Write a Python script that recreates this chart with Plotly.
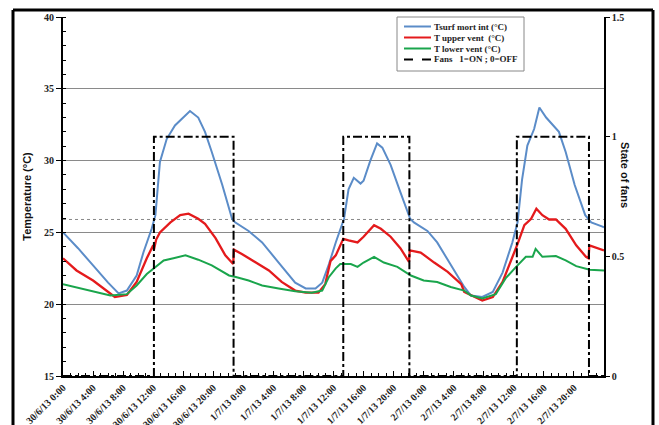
import plotly.graph_objects as go

# ---- data (hours since 30/6/13 0:00) ----
tsurf_h = [0, 2, 4, 6, 7.4, 8.5, 9.8, 10.7, 11.8, 12.3, 12.9, 13.8, 14.9, 16.0, 16.9, 18.0,
           18.9, 19.8, 21.2, 22.5, 22.9, 24.7, 26.5, 28.7, 30.9, 32.3, 33.6, 34.5, 35.4, 36.3,
           37.4, 38.0, 38.7, 39.6, 40.0, 40.9, 41.8, 42.5, 43.6, 44.9, 46.2, 46.7, 48.5, 49.8,
           51.6, 53.4, 54.3, 55.8, 57.2, 58.5, 59.8, 60.5, 61.1, 61.8, 62.7, 63.4, 64.3, 65.2,
           66.0, 66.9, 68.1, 69.5, 70.3, 71.8, 72]
tsurf_t = [25.0, 23.9, 22.7, 21.5, 20.75, 20.95, 22.0, 23.6, 25.25, 26.2, 29.9, 31.5, 32.45, 33.0, 33.45, 33.0,
           32.0, 30.6, 28.3, 25.95, 25.7, 25.1, 24.3, 22.9, 21.5, 21.1, 21.1, 21.5, 22.8, 24.3,
           25.95, 28.0, 28.8, 28.4, 28.6, 30.0, 31.2, 30.9, 29.7, 27.8, 25.95, 25.7, 25.1, 24.3,
           22.7, 21.2, 20.6, 20.5, 20.85, 22.2, 24.3, 25.7, 28.7, 31.05, 32.2, 33.7, 33.0, 32.45,
           32.0, 30.6, 28.3, 26.2, 25.7, 25.4, 25.35]

upper_h = [0, 1.8, 4.0, 5.8, 6.9, 8.5, 9.8, 11.15, 12.0, 12.1, 12.4, 12.9, 14.3, 15.6, 16.7, 18.0,
           18.9, 20.3, 21.6, 22.65, 22.75, 23.8, 25.6, 27.4, 29.1, 30.9, 32.3, 34.0, 34.9, 35.6,
           36.3, 36.9, 37.3, 38.0, 39.2, 40.0, 41.4, 42.3, 43.6, 44.9, 46.05, 46.15, 47.6, 49.4,
           51.2, 53.0, 53.4, 55.8, 57.2, 58.5, 59.8, 60.5, 61.4, 62.3, 63.0, 63.8, 64.7, 65.6,
           66.9, 68.3, 69.6, 69.95, 70.05, 71.8, 72]
upper_t = [23.2, 22.35, 21.65, 20.95, 20.5, 20.65, 21.55, 23.2, 24.1, 23.8, 24.5, 25.0, 25.7, 26.2, 26.3, 25.95,
           25.6, 24.6, 23.4, 22.8, 23.8, 23.5, 22.9, 22.35, 21.55, 20.95, 20.8, 20.8, 21.4, 23.0,
           23.4, 24.1, 24.55, 24.45, 24.3, 24.7, 25.5, 25.25, 24.7, 23.9, 22.95, 23.75, 23.6, 22.9,
           22.25, 21.4, 20.85, 20.25, 20.5, 21.55, 23.2, 24.2, 25.5, 25.95, 26.65, 26.2, 25.9, 25.9,
           25.25, 24.1, 23.3, 23.2, 24.1, 23.8, 23.75]

lower_h = [0, 2.3, 4.0, 6.3, 8.5, 9.8, 11.15, 12.3, 13.4, 14.7, 16.3, 18.0, 19.8, 22.1, 23.0,
           24.7, 26.5, 28.7, 30.9, 33.1, 34.5, 35.4, 36.3, 36.9, 38.3, 39.2, 40.0, 41.4, 42.7,
           44.5, 46.3, 48.0, 49.8, 51.6, 53.4, 54.3, 55.8, 57.6, 58.9, 60.3, 61.6, 62.5, 62.9,
           63.8, 65.6, 66.9, 68.3, 70.1, 72]
lower_t = [21.4, 21.1, 20.85, 20.6, 20.7, 21.3, 22.1, 22.6, 23.05, 23.2, 23.4, 23.1, 22.7, 22.0, 21.9,
           21.65, 21.3, 21.1, 20.9, 20.8, 20.95, 21.9, 22.5, 22.8, 22.8, 22.6, 22.9, 23.3, 22.9,
           22.6, 22.0, 21.65, 21.55, 21.2, 20.95, 20.6, 20.4, 20.7, 21.8, 22.6, 23.3, 23.3, 23.85,
           23.3, 23.35, 23.05, 22.65, 22.4, 22.35]

fans_h = [0, 12.1, 12.1, 22.7, 22.7, 37.3, 37.3, 46.1, 46.1, 60.4, 60.4, 70.0, 70.0, 72]
fans_state = [0, 0, 1, 1, 0, 0, 1, 1, 0, 0, 1, 1, 0, 0]

threshold_t = 25.9

tick_hours = list(range(0, 72, 4))
tick_labels = ["30/6/13 0:00", "30/6/13 4:00", "30/6/13 8:00", "30/6/13 12:00", "30/6/13 16:00",
               "30/6/13 20:00", "1/7/13 0:00", "1/7/13 4:00", "1/7/13 8:00", "1/7/13 12:00",
               "1/7/13 16:00", "1/7/13 20:00", "2/7/13 0:00", "2/7/13 4:00", "2/7/13 8:00",
               "2/7/13 12:00", "2/7/13 16:00", "2/7/13 20:00"]

names = ["Tsurf mort int (°C)", "T upper vent\u00a0\u00a0(°C)", "T lower vent (°C)",
         "Fans\u00a0\u00a0\u00a01=ON ; 0=OFF"]
colors = ["#5b8cc8", "#e41a1c", "#1aa54c", "black"]
dashes = ["solid", "solid", "solid", "dashdot"]

# ---- figure ----
W, H = 659, 425
L, R, T, B = 63, 55, 17, 49
pw, ph = W - L - R, H - T - B


def px_x(px):
    return (px - L) / pw


def px_y(py):
    return (H - B - py) / ph


serif = dict(family="Liberation Serif", size=10, color="#222", weight="bold")

fig = go.Figure()
fig.add_trace(go.Scatter(x=tsurf_h, y=tsurf_t, mode="lines", name=names[0],
                         line=dict(color=colors[0], width=2)))
fig.add_trace(go.Scatter(x=upper_h, y=upper_t, mode="lines", name=names[1],
                         line=dict(color=colors[1], width=2.3)))
fig.add_trace(go.Scatter(x=lower_h, y=lower_t, mode="lines", name=names[2],
                         line=dict(color=colors[2], width=2)))
fig.add_trace(go.Scatter(x=fans_h, y=fans_state, mode="lines", name=names[3], yaxis="y2",
                         line=dict(color=colors[3], width=2, dash=dashes[3])))

shapes = []
shapes.append(dict(type="line", xref="paper", yref="y", x0=0, x1=1, y0=threshold_t, y1=threshold_t,
                   line=dict(color="#888", width=1, dash="dot"), layer="below"))

# outer frame (left, top, right)
fx0, fx1, fy_top, fy_bot = px_x(13), px_x(653), px_y(10), px_y(470)
for (a, b, c, d) in [(fx0, fy_bot, fx0, fy_top), (fx0, fy_top, fx1, fy_top), (fx1, fy_top, fx1, fy_bot)]:
    shapes.append(dict(type="line", xref="paper", yref="paper", x0=a, y0=b, x1=c, y1=d,
                       line=dict(color="black", width=3)))

# compact legend box
shapes.append(dict(type="rect", xref="paper", yref="paper",
                   x0=px_x(397), x1=px_x(524), y0=px_y(71), y1=px_y(17),
                   line=dict(color="#888", width=1), fillcolor="white"))
annotations = []
row_y = [26.5, 37.5, 48.5, 59.5]
for i in range(4):
    shapes.append(dict(type="line", xref="paper", yref="paper",
                       x0=px_x(404), x1=px_x(431), y0=px_y(row_y[i]), y1=px_y(row_y[i]),
                       line=dict(color=colors[i], width=2,
                                 dash="dash" if dashes[i] == "dashdot" else "solid")))
    annotations.append(dict(text=names[i], xref="paper", yref="paper",
                            x=px_x(432), y=px_y(row_y[i]), xanchor="left", yanchor="middle",
                            showarrow=False,
                            font=dict(family="Liberation Serif", size=9, color="#222",
                                      weight="bold")))

annotations.append(dict(text="State of fans", xref="paper", yref="paper",
                        x=px_x(633), y=px_y(175), textangle=90, showarrow=False,
                        font=dict(family="Liberation Sans", size=11, color="#111", weight="bold")))

fig.update_layout(
    width=W, height=H,
    margin=dict(l=L, r=R, t=T, b=B, autoexpand=False),
    paper_bgcolor="white", plot_bgcolor="white",
    showlegend=False,
    shapes=shapes,
    annotations=annotations,
    xaxis=dict(range=[0, 72], tickvals=tick_hours, ticktext=tick_labels, tickangle=-45,
               tickfont=serif, ticks="inside", ticklen=5, tickcolor="black", automargin=False,
               minor=dict(dtick=1, tick0=0, ticks="inside", ticklen=3, tickcolor="black"),
               showline=True, linecolor="black", linewidth=2, showgrid=False, zeroline=False),
    yaxis=dict(range=[15, 40], dtick=5, tickfont=serif, ticks="outside", ticklen=5,
               tickcolor="black", automargin=False,
               minor=dict(dtick=1, ticks="inside", ticklen=3, tickcolor="black"),
               showgrid=True, gridcolor="#8a8a8a", gridwidth=1,
               showline=True, linecolor="black", linewidth=2, zeroline=False,
               title=dict(text="Temperature (°C)", standoff=10,
                          font=dict(family="Liberation Sans", size=11, color="#111", weight="bold"))),
    yaxis2=dict(range=[0, 1.5], overlaying="y", side="right", tickvals=[0, 0.5, 1, 1.5],
                ticktext=["0", "0.5", "1", "1.5"], tickfont=serif, ticks="outside", ticklen=4,
                tickcolor="black", showgrid=False, zeroline=False, automargin=False,
                showline=True, linecolor="black", linewidth=1.5),
)

fig.write_html("out.html", config={"displayModeBar": False},
               post_script="document.body.style.margin='0';document.body.style.overflow='hidden';")
